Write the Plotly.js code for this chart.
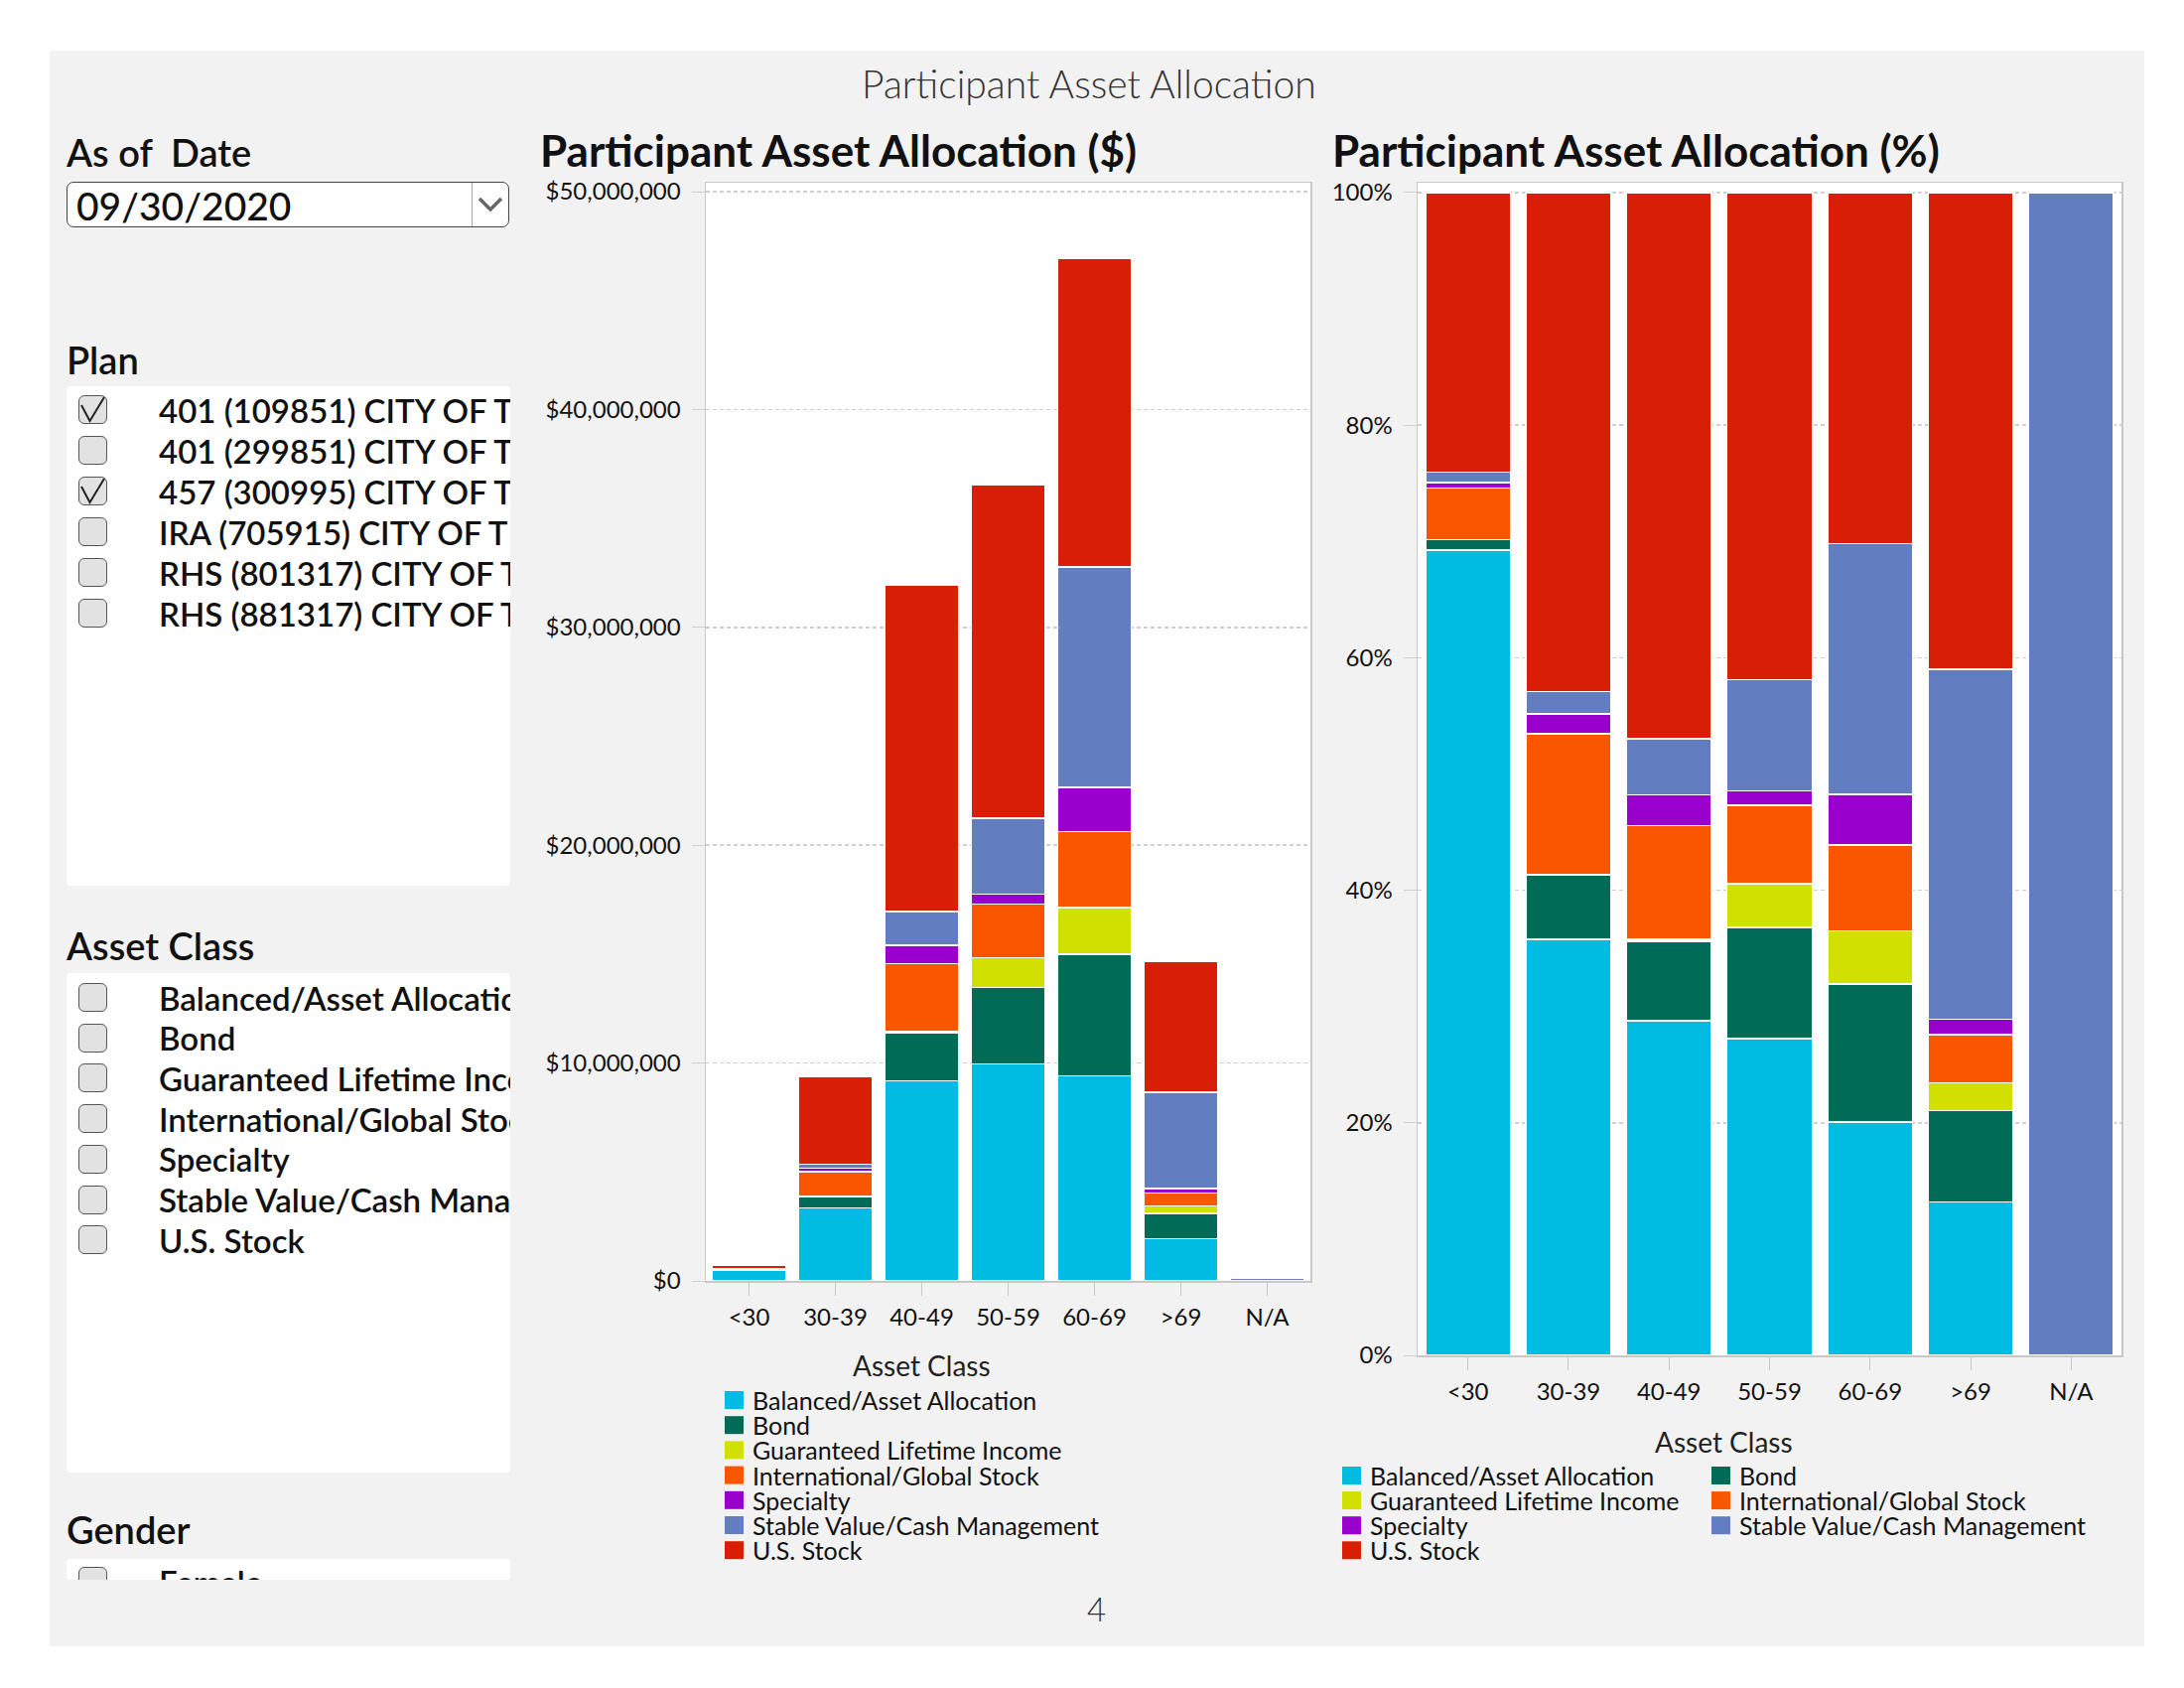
<!DOCTYPE html>
<html><head><meta charset="utf-8">
<script src="https://cdn.plot.ly/plotly-3.0.1.min.js"></script>
<style>
body{margin:0;background:#fff;font-family:Lato,'Open Sans',sans-serif;}
#wrap{position:relative;width:2200px;height:1700px;overflow:hidden;}
#panel{position:absolute;left:50px;top:51px;width:2110px;height:1607px;background:#f2f2f2;}
#chart{position:absolute;left:0;top:0;width:2200px;height:1700px;}
.abs{position:absolute;white-space:pre;color:#111;}
.box{position:absolute;background:#fff;border-radius:4px;overflow:hidden;}
.cb{position:absolute;width:27px;height:27px;border:1.5px solid #555;border-radius:6px;background:#e2e2e2;}
</style></head>
<body>
<div id="wrap"><div id="panel"></div><div id="chart"></div><div id="side"></div></div>
<script>
// ---------- data ----------
const ageGroups = ['<30','30-39','40-49','50-59','60-69','>69','N/A'];
const totalBalance = [720000, 9380000, 31960000, 36560000, 46950000, 14660000, 120000];
const assetClasses = ['Balanced/Asset Allocation','Bond','Guaranteed Lifetime Income','International/Global Stock','Specialty','Stable Value/Cash Management','U.S. Stock'];
const pctBalanced   = [69.25, 35.79, 28.76, 27.25, 20.05, 13.21, 0];
const pctBond       = [0.90, 5.56, 6.84, 9.57, 11.90, 7.86, 0];
const pctGuaranteed = [0, 0, 0.20, 3.76, 4.56, 2.37, 0];
const pctIntl       = [4.45, 12.10, 9.74, 6.74, 7.40, 4.15, 0];
const pctSpecialty  = [0.45, 1.71, 2.65, 1.23, 4.33, 1.31, 0];
const pctStable     = [0.90, 1.93, 4.84, 9.57, 21.58, 30.10, 100];
const pctUSStock    = [24.05, 42.91, 46.97, 41.88, 30.18, 41.00, 0];
const classColors = ['#00bce3','#006b56','#d2e000','#fa5600','#9a00cc','#627ec0','#d91e06'];
const dollarTicks = [0, 10000000, 20000000, 30000000, 40000000, 50000000];
const pctTicks = [0, 20, 40, 60, 80, 100];
const planNames = ['401 (109851) CITY OF T','401 (299851) CITY OF T','457 (300995) CITY OF T','IRA (705915) CITY OF T','RHS (801317) CITY OF T','RHS (881317) CITY OF T'];
const planChecked = [true, false, true, false, false, false];
const genderNames = ['Female'];
const asOfDate = '09/30/2020';

const pctSeries = [pctBalanced, pctBond, pctGuaranteed, pctIntl, pctSpecialty, pctStable, pctUSStock];

// ---------- chart ----------
const W = 2200, H = 1700;
const px = x => x / W, py = y => 1 - y / H;

const traces = [];
pctSeries.forEach((pct, i) => {
  traces.push({type:'bar', name:assetClasses[i], x:ageGroups,
    y:pct.map((p,j)=>p*totalBalance[j]/100), xaxis:'x', yaxis:'y',
    marker:{color:classColors[i], line:{color:'#fff', width:1.5}}, showlegend:false});
  traces.push({type:'bar', name:assetClasses[i], x:ageGroups, y:pct,
    xaxis:'x2', yaxis:'y2',
    marker:{color:classColors[i], line:{color:'#fff', width:1.5}}, showlegend:false});
});

const tickFont = {family:'Lato', size:24, color:'#111'};
const gridCol = '#cfcfcf';
function xAx(d0, d1, anchor){
  return {domain:[px(d0), px(d1)], anchor:anchor, type:'category', showline:true, mirror:true,
    linecolor:'#c8c8c8', linewidth:1.5, ticks:'outside', ticklen:13, tickcolor:'#c8c8c8', tickwidth:1,
    tickfont:tickFont, ticklabelstandoff:2, showgrid:false, fixedrange:true};
}
function yAx(top, bot, anchor, range, vals, labels){
  return {domain:[py(bot), py(top)], anchor:anchor, range:range, tickmode:'array', tickvals:vals, ticktext:labels,
    showline:true, mirror:true, linecolor:'#c8c8c8', linewidth:1.5, ticks:'outside', ticklen:13,
    tickcolor:'#d0d0d0', tickwidth:1, tickfont:tickFont, ticklabelstandoff:6, showgrid:true, gridcolor:gridCol,
    griddash:'4px,3px', gridwidth:1.5, zeroline:false, fixedrange:true};
}

const annotations = [];
const shapes = [];
function ann(text, x, y, size, opts){
  annotations.push(Object.assign({text:text, x:px(x), y:py(y), xref:'paper', yref:'paper', showarrow:false,
    xanchor:'left', yanchor:'middle', font:{family:'Lato', size:size, color:'#111'}}, opts||{}));
}
ann('Participant Asset Allocation', 1097, 84, 39, {xanchor:'center', font:{family:'Lato', size:39, color:'#333', weight:300}});
ann('Participant Asset Allocation ($)', 542, 151, 44, {font:{family:'Lato', size:44, color:'#111', weight:700}});
ann('Participant Asset Allocation (%)', 1340, 151, 44, {font:{family:'Lato', size:44, color:'#111', weight:700}});
ann('4', 1104, 1620, 33, {xanchor:'center', font:{family:'Lato', size:33, color:'#333', weight:300}});

// legends (built from series names and colours)
function legendItem(i, sx, tx, cy){
  shapes.push({type:'rect', xref:'paper', yref:'paper', x0:px(sx), x1:px(sx+19), y0:py(cy+9), y1:py(cy-9),
    fillcolor:classColors[i], line:{width:0}});
  ann(assetClasses[i], tx, cy, 25, {font:{family:'Lato', size:25, color:'#111'}});
}
ann('Asset Class', 928, 1375, 28, {xanchor:'center', font:{family:'Lato', size:28, color:'#222'}});
assetClasses.forEach((n,i)=>legendItem(i, 730, 756, 1410 + i*25.2));
ann('Asset Class', 1736, 1452, 28, {xanchor:'center', font:{family:'Lato', size:28, color:'#222'}});
assetClasses.forEach((n,i)=>{const c=i%2, r=Math.floor(i/2); legendItem(i, 1352+c*372, 1378+c*372, 1486+r*25.1);});

const layout = {
  width:W, height:H, margin:{l:0,r:0,t:0,b:0}, paper_bgcolor:'rgba(0,0,0,0)', plot_bgcolor:'#fff',
  barmode:'stack', bargap:0.155, showlegend:false, font:{family:'Lato', color:'#111'},
  xaxis: xAx(711, 1320, 'y'),
  yaxis: yAx(184, 1290, 'x', [0, 50410000], dollarTicks, dollarTicks.map(v => '$' + v.toLocaleString('en-US'))),
  xaxis2: xAx(1428, 2137, 'y2'),
  yaxis2: yAx(184, 1365, 'x2', [0, 100.85], pctTicks, pctTicks.map(v => v + '%')),
  annotations: annotations, shapes: shapes
};
Plotly.newPlot('chart', traces, layout, {displayModeBar:false, staticPlot:true});

// ---------- filter panel (HTML) ----------
const side = document.getElementById('side');
function el(parent, cls, css, html){
  const d = document.createElement('div'); d.className = cls; Object.assign(d.style, css);
  if (html !== undefined) d.innerHTML = html; parent.appendChild(d); return d;
}
function text(parent, s, left, cy, size, weight, maxW){
  const h = Math.round(size*1.3);
  const css = {left:left+'px', top:(cy-h/2)+'px', height:h+'px', lineHeight:h+'px',
    fontSize:size+'px', fontWeight:weight||400};
  if (maxW) { css.width = maxW + 'px'; css.overflow = 'hidden'; }
  const d = el(parent, 'abs', css);
  d.textContent = s; return d;
}
const checkSvg = '<svg width="27" height="27" style="position:absolute;left:0;top:0;overflow:visible"><polyline points="2,9 10.5,25 25,1" fill="none" stroke="#222" stroke-width="2"/></svg>';
function checkbox(parent, left, cy, checked){
  el(parent, 'cb', {left:left+'px', top:(cy-15)+'px'}, checked ? checkSvg : '');
}

text(side, 'As of  Date', 67, 153, 38, 600);
const dd = el(side, 'abs', {left:'67px', top:'183px', width:'444px', height:'44px', border:'1.5px solid #444',
  borderRadius:'7px', background:'#fff'});
text(dd, asOfDate, 9, 23, 39, 500);
el(dd, 'abs', {left:'407px', top:'0px', width:'1px', height:'44px', background:'#aaa'});
el(dd, 'abs', {left:'412px', top:'12px'}, '<svg width="30" height="20"><polyline points="3,4 14,15 25,4" fill="none" stroke="#666" stroke-width="3.5"/></svg>');

function filterList(title, titleCy, boxTop, boxH, names, checked, firstCy, step){
  text(side, title, 67, titleCy, 38, 600);
  const box = el(side, 'box', {left:'67px', top:boxTop+'px', width:'447px', height:boxH+'px'});
  names.forEach((n,i)=>{
    const cy = firstCy + i*step - boxTop;
    checkbox(box, 12, cy, checked[i]);
    text(box, n, 93, cy, 33, 600, 447 - 93);
  });
}
filterList('Plan', 362, 389, 503, planNames, planChecked, 413, 41);
filterList('Asset Class', 952, 980, 503, assetClasses, assetClasses.map(()=>false), 1005, 40.7);
filterList('Gender', 1540, 1570, 21, genderNames, [false], 1593, 40);
</script>
</body></html>
